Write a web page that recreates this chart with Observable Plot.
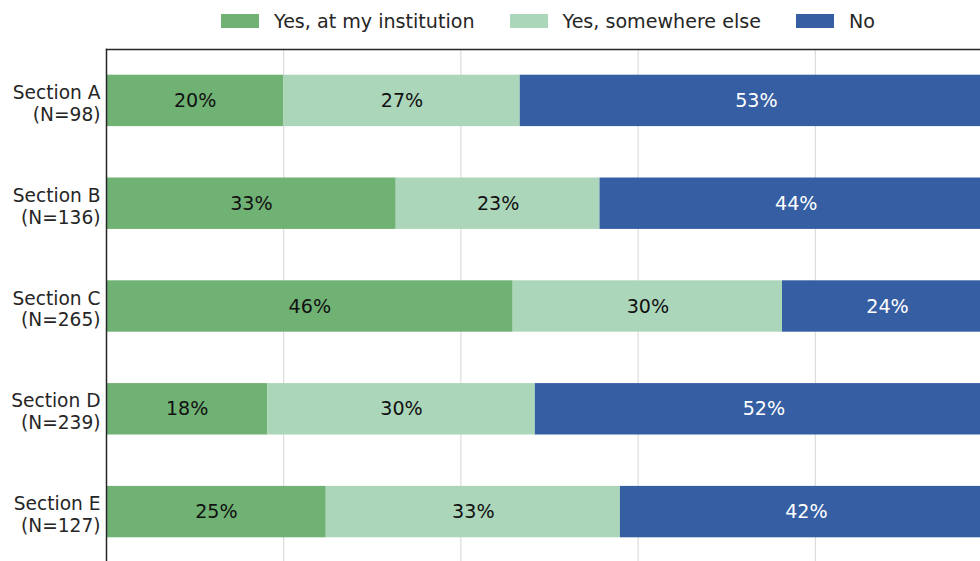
<!DOCTYPE html>
<html>
<head>
<meta charset="utf-8">
<script src="https://cdn.jsdelivr.net/npm/d3@7"></script>
<script src="https://cdn.jsdelivr.net/npm/@observablehq/plot@0.6"></script>
<style>
  html, body { margin: 0; padding: 0; background: white; overflow: hidden; }
  #legend { height: 42px; display: flex; align-items: center; padding-left: 221px;
            font-family: "DejaVu Sans", sans-serif; font-size: 19.1px; color: #262626; }
  .item { display: flex; align-items: center; margin-right: 35px; }
  .sw { width: 38px; height: 14px; margin-right: 15px; }
</style>
</head>
<body>
<div id="legend"></div>
<div id="chart"></div>
<script>
const sections = ["Section A", "Section B", "Section C", "Section D", "Section E"];
const counts = [98, 136, 265, 239, 127];
const answers = ["Yes, at my institution", "Yes, somewhere else", "No"];
const colors = ["#70b174", "#acd6ba", "#355ea3"];
const yesInstitution = [0.200, 0.327, 0.459, 0.182, 0.248];
const yesElsewhere   = [0.267, 0.230, 0.304, 0.302, 0.332];
const no             = [0.533, 0.443, 0.237, 0.516, 0.420];
const gridTicks = [0.2, 0.4, 0.6, 0.8];

const series = [yesInstitution, yesElsewhere, no];
const rows = sections.flatMap((s, i) => answers.map((a, j) => ({section: s, answer: a, value: series[j][i]})));
const pct = d => Math.round(d.value * 100) + "%";

// legend
const legend = document.getElementById("legend");
answers.forEach((a, j) => {
  const it = document.createElement("div"); it.className = "item";
  const sw = document.createElement("div"); sw.className = "sw"; sw.style.background = colors[j];
  const tx = document.createElement("span"); tx.textContent = a;
  it.appendChild(sw); it.appendChild(tx); legend.appendChild(it);
});

const FS = 19.1;
const chart = Plot.plot({
  width: 980,
  height: 519,
  marginTop: 7,
  marginLeft: 106,
  marginRight: 0,
  marginBottom: 0,
  style: {fontFamily: "DejaVu Sans", fontSize: FS + "px", color: "#262626", background: "white", overflow: "hidden"},
  x: {domain: [0, 1], range: [106, 992], axis: null},
  y: {domain: sections, range: [7, 521], paddingInner: 0.5, paddingOuter: 0.25, round: false, label: null},
  color: {domain: answers, range: colors},
  marks: [
    Plot.gridX(gridTicks, {stroke: "#d5d5d5", strokeOpacity: 1, strokeWidth: 1}),
    Plot.barX(rows, Plot.stackX({x: "value", y: "section", z: "answer", fill: "answer", order: answers, clip: true})),
    Plot.text(rows, Plot.stackX({x: "value", y: "section", z: "answer", order: answers,
      text: d => d.answer === "No" ? "" : pct(d), fill: "#111", fontSize: FS})),
    Plot.text(rows, Plot.stackX({x: "value", y: "section", z: "answer", order: answers,
      text: d => d.answer === "No" ? pct(d) : "", fill: "white", fontSize: FS})),
    Plot.axisY({tickSize: 0, tickPadding: 6, fontSize: 18.6, lineHeight: 1.18, dy: 2, fill: "#262626", label: null,
      tickFormat: s => s + "\n(N=" + counts[sections.indexOf(s)] + ")"}),
    Plot.frame({anchor: "top", stroke: "#262626", strokeWidth: 1.5}),
    Plot.frame({anchor: "left", stroke: "#262626", strokeWidth: 1.5})
  ]
});
document.getElementById("chart").appendChild(chart);
</script>
</body>
</html>
